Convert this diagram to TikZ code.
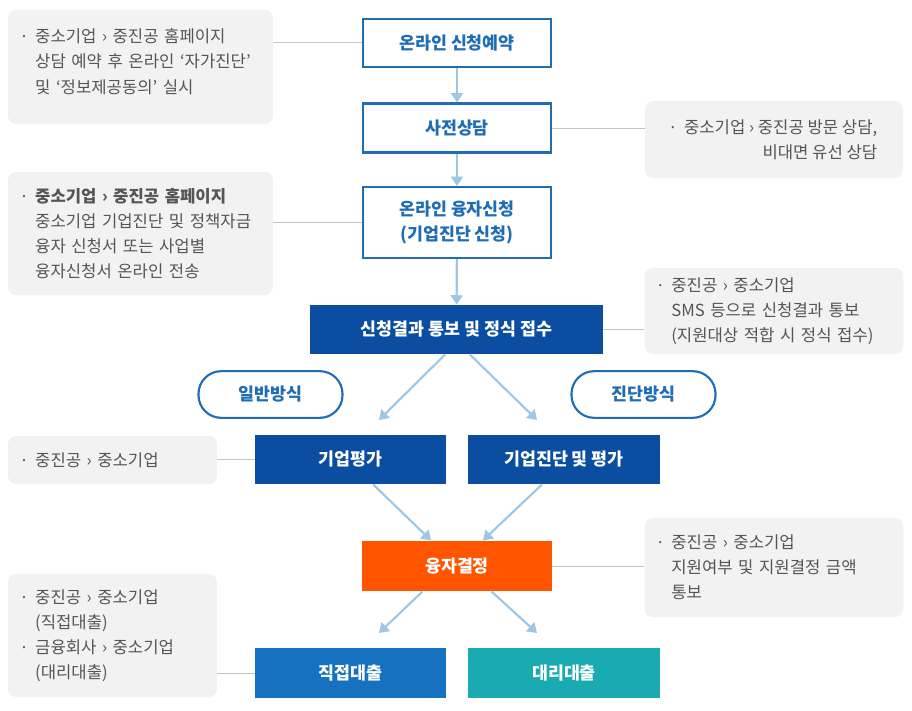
\documentclass[tikz,border=0pt]{standalone}
\usepackage{fontspec}
\setmainfont{Noto Sans CJK KR}
\newfontfamily\dotfont{Noto Sans}
\usetikzlibrary{arrows.meta}
\definecolor{lineblue}{HTML}{1F6DB5}
\definecolor{deepblue}{HTML}{0A4DA1}
\definecolor{midblue}{HTML}{1672C1}
\definecolor{tealbox}{HTML}{1AABB2}
\definecolor{orangebox}{HTML}{FF5500}
\definecolor{arrowblue}{HTML}{9DC6E7}
\definecolor{notegray}{HTML}{F2F2F2}
\definecolor{notetext}{HTML}{555555}
\definecolor{linkgray}{HTML}{C4C4C4}
\def\bul{\makebox[0.8em][l]{\dotfont ·}}
\def\ind{\hspace*{0.8em}}
\tikzset{
	boxfont/.style={font=\fontsize{13pt}{19pt}\selectfont\bfseries},
	outlinebox/.style={boxfont, draw=lineblue, line width=1.8pt, fill=white, text=lineblue, align=center, inner sep=0pt, minimum width=141pt},
	fillbox/.style={boxfont, fill=#1, text=white, align=center, inner sep=0pt, minimum height=37pt},
	pill/.style={boxfont, draw=lineblue, line width=1.6pt, fill=white, text=lineblue, rounded corners=17pt, minimum width=108pt, minimum height=35pt},
	note/.style={fill=notegray, text=notetext, rounded corners=6pt, align=left, inner xsep=10pt, font=\fontsize{12.5pt}{18.75pt}\selectfont},
	link/.style={draw=linkgray, line width=0.75pt},
	flow/.style={draw=arrowblue, line width=1.6pt, -{Triangle[width=9pt,length=7pt]}}
}
\begin{document}
\begin{tikzpicture}[x=0.75pt, y=-0.75pt]
		%%%%% START %%%%%
		\useasboundingbox (0, 0) rectangle (912, 710);
		
		% main steps
		\node[outlinebox, minimum height=36pt] (b1) at (457, 43) {온라인 신청예약};
		\node[outlinebox, minimum height=36.5pt] (b2) at (457, 128) {사전상담};
		\node[outlinebox, minimum height=53pt] (b3) at (457, 222.5) {온라인 융자신청\\(기업진단 신청)};
		\node[fillbox=deepblue, minimum width=220pt] (b4) at (456.5, 329.5) {신청결과 통보 및 정식 접수};
		
		\node[pill] (p1) at (270.5, 394.5) {일반방식};
		\node[pill] (p2) at (643.5, 394.5) {진단방식};
		
		\node[fillbox=deepblue, minimum width=143pt] (b5) at (350.5, 459.5) {기업평가};
		\node[fillbox=deepblue, minimum width=144pt] (b6) at (564, 459.5) {기업진단 및 평가};
		\node[fillbox=orangebox, minimum width=142.5pt, minimum height=38pt] (b7) at (457, 566) {융자결정};
		\node[fillbox=midblue, minimum width=143pt] (b8) at (350.5, 673) {직접대출};
		\node[fillbox=tealbox, minimum width=144pt] (b9) at (564, 673) {대리대출};
		
		% notes
		\node[note, minimum width=198.75pt, minimum height=85.5pt, text width=178pt] (n1) at (140.5, 67)
			{\bul 중소기업 › 중진공 홈페이지\\\ind 상담 예약 후 온라인 ‘자가진단’\\\ind 및 ‘정보제공동의’ 실시\rule[-9pt]{0pt}{9pt}};
		\node[note, align=right, minimum width=193.5pt, minimum height=57.75pt] (n2) at (774, 139.5)
			{\bul 중소기업 › 중진공 방문 상담,\\비대면 유선 상담};
		\node[note, minimum width=198.75pt, minimum height=92.25pt, text width=178pt] (n3) at (140.5, 233.5)
			{\textbf{\bul 중소기업 › 중진공 홈페이지}\\\ind 중소기업 기업진단 및 정책자금\\\ind 융자 신청서 또는 사업별\\\ind 융자신청서 온라인 전송};
		\node[note, minimum width=193.5pt, minimum height=64.5pt, text width=174pt] (n4) at (774, 311)
			{\bul 중진공 › 중소기업\\\ind SMS 등으로 신청결과 통보\\\ind (지원대상 적합 시 정식 접수)};
		\node[note, minimum width=156.75pt, minimum height=36pt, text width=136pt] (n5) at (112.5, 460)
			{\bul 중진공 › 중소기업};
		\node[note, minimum width=193.5pt, minimum height=74.25pt, text width=174pt] (n6) at (774, 567.5)
			{\bul 중진공 › 중소기업\\\ind 지원여부 및 지원결정 금액\\\ind 통보};
		\node[note, minimum width=156.75pt, minimum height=92.25pt, text width=136pt] (n7) at (112.5, 635.5)
			{\bul 중진공 › 중소기업\\\ind (직접대출)\\\bul 금융회사 › 중소기업\\\ind (대리대출)};
		
		% note links
		\draw[link] (n1.east |- b1) -- (b1.west);
		\draw[link] (b2.east) -- (n2.west |- b2);
		\draw[link] (n3.east |- b3) -- (b3.west);
		\draw[link] (b4.east) -- (n4.west |- b4);
		\draw[link] (n5.east |- b5) -- (b5.west);
		\draw[link] (b7.east) -- (n6.west |- b7);
		\draw[link] (n7.east |- b8) -- (b8.west);
		
		% flow
		\coordinate (t1) at (379, 420);
		\coordinate (t2) at (537, 420);
		\coordinate (t3) at (379, 633);
		\coordinate (t4) at (537, 633);
		\draw[flow] (b1) -- (b2);
		\draw[flow] (b2) -- (b3);
		\draw[flow] (b3) -- (b4);
		\draw[flow] ([xshift=-8.5pt]b4.south) -- (t1);
		\draw[flow] ([xshift=10pt]b4.south) -- (t2);
		\draw[flow] ([xshift=17pt]b5.south) -- ([xshift=-19.5pt]b7.north);
		\draw[flow] ([xshift=-16.5pt]b6.south) -- ([xshift=19.5pt]b7.north);
		\draw[flow] ([xshift=-26pt]b7.south) -- (t3);
		\draw[flow] ([xshift=26pt]b7.south) -- (t4);
		%%%%% END %%%%%
	\end{tikzpicture}
\end{document}
